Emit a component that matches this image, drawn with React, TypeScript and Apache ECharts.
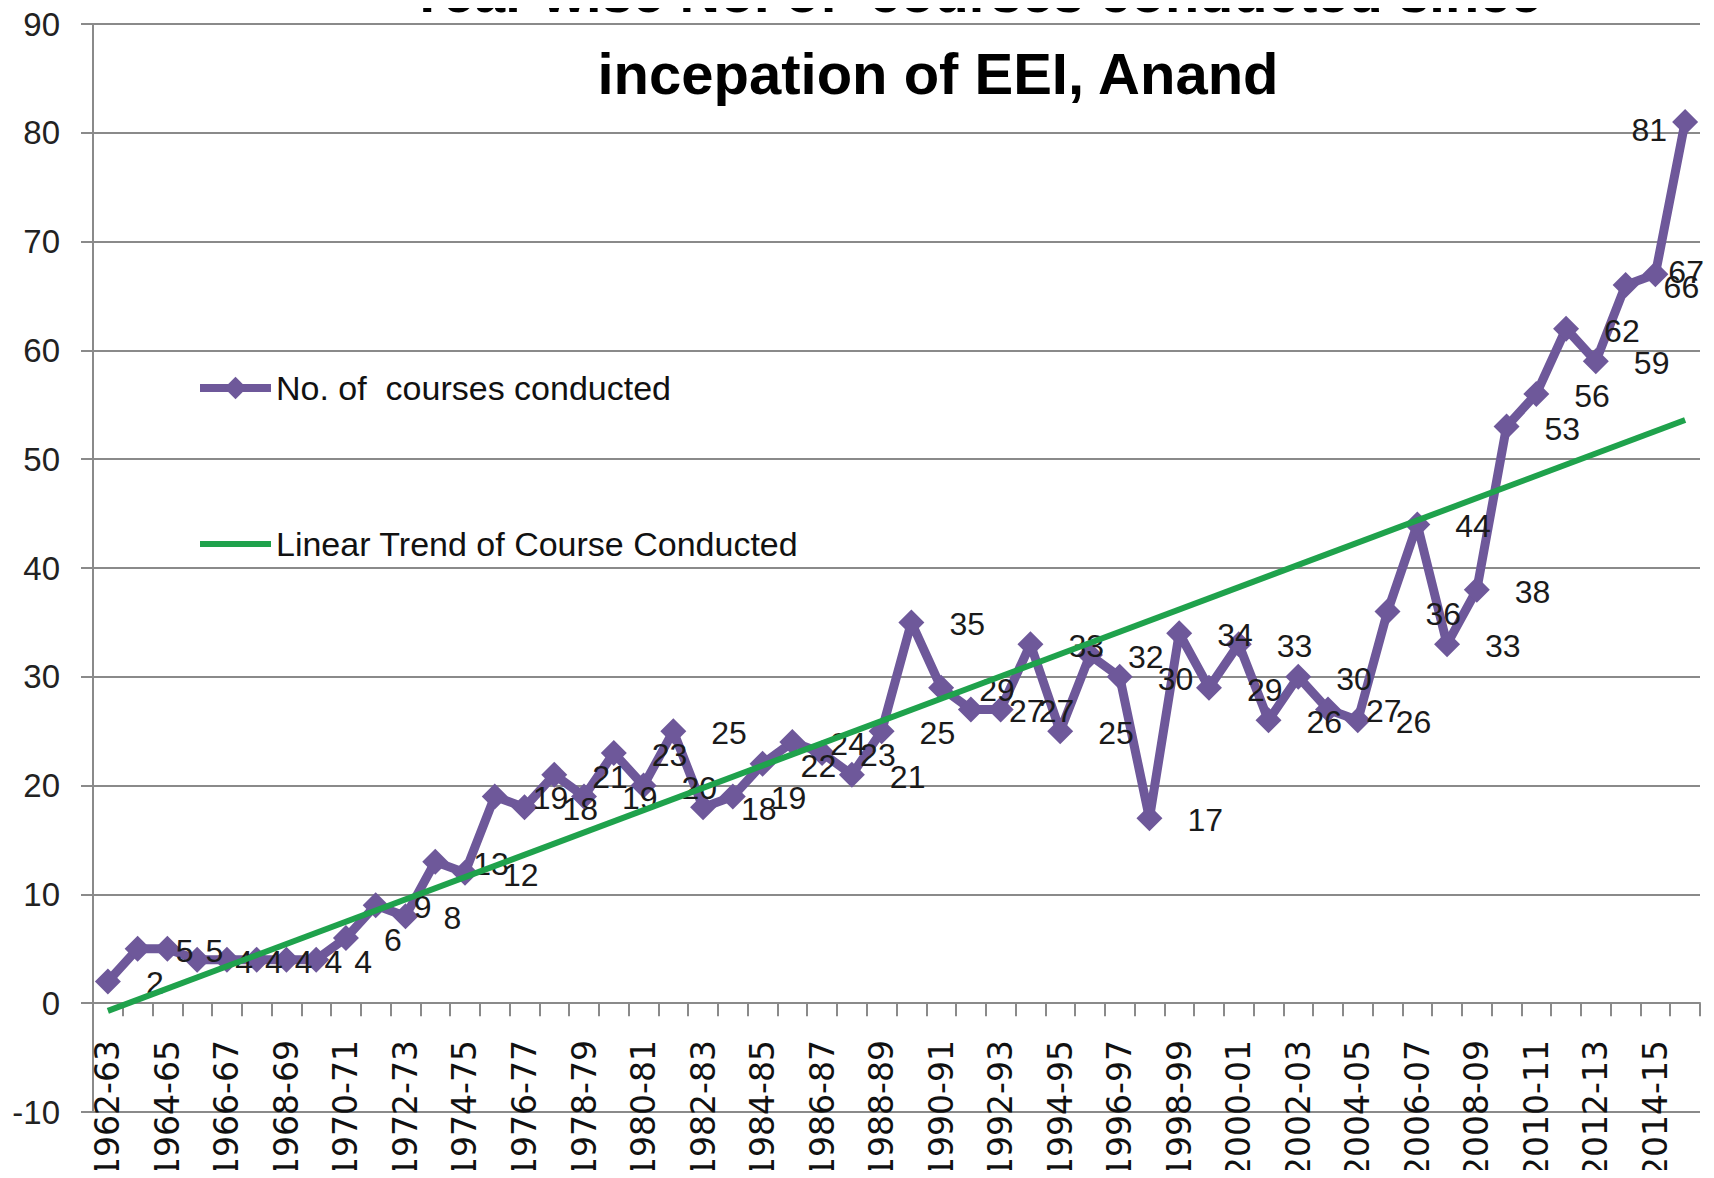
import React, { useEffect, useRef } from "react";
import * as echarts from "echarts";

const categories = [
  "1962-63", "1963-64", "1964-65", "1965-66", "1966-67", "1967-68", "1968-69", "1969-70",
  "1970-71", "1971-72", "1972-73", "1973-74", "1974-75", "1975-76", "1976-77", "1977-78",
  "1978-79", "1979-80", "1980-81", "1981-82", "1982-83", "1983-84", "1984-85", "1985-86",
  "1986-87", "1987-88", "1988-89", "1989-90", "1990-91", "1991-92", "1992-93", "1993-94",
  "1994-95", "1995-96", "1996-97", "1997-98", "1998-99", "1999-00", "2000-01", "2001-02",
  "2002-03", "2003-04", "2004-05", "2005-06", "2006-07", "2007-08", "2008-09", "2009-10",
  "2010-11", "2011-12", "2012-13", "2013-14", "2014-15", "2015-16",
];

const courses = [
  2, 5, 5, 4, 4, 4, 4, 4, 6, 9, 8, 13, 12, 19, 18, 21, 19, 23, 20, 25, 18, 19, 22, 24, 23, 21, 25,
  35, 29, 27, 27, 33, 25, 32, 30, 17, 34, 29, 33, 26, 30, 27, 26, 36, 44, 33, 38, 53, 56, 62, 59,
  66, 67, 81,
];

// Linear trend end values
const trendStart = -0.7;
const trendEnd = 53.6;

const yTicks = { min: -10, max: 90, interval: 10 };

const titleLine1 = "Year wise No. of  courses conducted since";
const titleLine2 = "incepation of EEI, Anand";
const seriesName = "No. of  courses conducted";
const trendName = "Linear Trend of Course Conducted";

const SANS = "'Liberation Sans', Arial, sans-serif";
const PURPLE = "#6E589A";
const GREEN = "#1FA24C";
const GRID = "#8A8A8A";

export default function App() {
  const ref = useRef<HTMLDivElement>(null);

  useEffect(() => {
    if (!ref.current) return;
    const chart = echarts.init(ref.current, null, { renderer: "svg" });

    const data = courses.map((v, i) => {
      if (i === courses.length - 1) {
        return { value: v, label: { position: "left", distance: 5, offset: [0, 8] } };
      }
      if (i === courses.length - 2) {
        return { value: v, label: { distance: 0, offset: [0, -2] } };
      }
      return v;
    });

    chart.setOption({
      animation: false,
      backgroundColor: "#ffffff",
      grid: {
        left: 93,
        right: 14,
        top: 24,
        bottom: 66,
        containLabel: false,
        outerBoundsMode: "none",
      },
      graphic: [
        {
          type: "text",
          x: 975,
          y: -8,
          style: {
            text: titleLine1,
            font: `bold 56px ${SANS}`,
            fill: "#000",
            align: "center",
            verticalAlign: "middle",
          },
        },
        {
          type: "text",
          x: 938,
          y: 73,
          style: {
            text: titleLine2,
            font: `bold 58px ${SANS}`,
            fill: "#000",
            align: "center",
            verticalAlign: "middle",
          },
        },
      ],
      legend: {
        orient: "vertical",
        left: 191,
        top: 366,
        itemGap: 122,
        itemWidth: 71,
        itemHeight: 28,
        lineStyle: { width: 8 },
        textStyle: { fontFamily: SANS, fontSize: 34, color: "#111" },
        data: [
          { name: seriesName },
          { name: trendName, icon: "path://M0,0 L71,0 L71,6 L0,6 Z" },
        ],
      },
      xAxis: {
        type: "category",
        data: categories,
        boundaryGap: true,
        axisLine: { onZero: true, lineStyle: { color: GRID, width: 2 } },
        axisTick: { show: true, interval: 0, length: 13, lineStyle: { color: GRID, width: 2 } },
        axisLabel: {
          interval: 1,
          rotate: 90,
          margin: -72,
          fontFamily: "'DejaVu Sans', Verdana, sans-serif",
          fontSize: 33,
          color: "#111",
        },
        splitLine: { show: false },
      },
      yAxis: {
        type: "value",
        min: yTicks.min,
        max: yTicks.max,
        interval: yTicks.interval,
        axisLine: { show: true, lineStyle: { color: GRID, width: 2 } },
        axisTick: { show: true, length: 12, lineStyle: { color: GRID, width: 2 } },
        axisLabel: { margin: 33, fontFamily: SANS, fontSize: 33, color: "#222" },
        splitLine: { show: true, lineStyle: { color: GRID, width: 2 } },
      },
      series: [
        {
          name: seriesName,
          type: "line",
          data,
          symbol: "diamond",
          symbolSize: 26,
          showAllSymbol: true,
          color: PURPLE,
          lineStyle: { color: PURPLE, width: 9 },
          itemStyle: { color: PURPLE },
          label: {
            show: true,
            position: "right",
            distance: 25,
            offset: [0, 2],
            fontFamily: SANS,
            fontSize: 32,
            color: "#1a1a1a",
          },
          z: 2,
        },
        {
          name: trendName,
          type: "line",
          data: [
            [categories[0], trendStart],
            [categories[categories.length - 1], trendEnd],
          ],
          symbol: "none",
          color: GREEN,
          lineStyle: { color: GREEN, width: 6 },
          z: 3,
        },
      ],
    });

    return () => chart.dispose();
  }, []);

  return <div ref={ref} style={{ width: 1714, height: 1178, margin: -8 }} />;
}
